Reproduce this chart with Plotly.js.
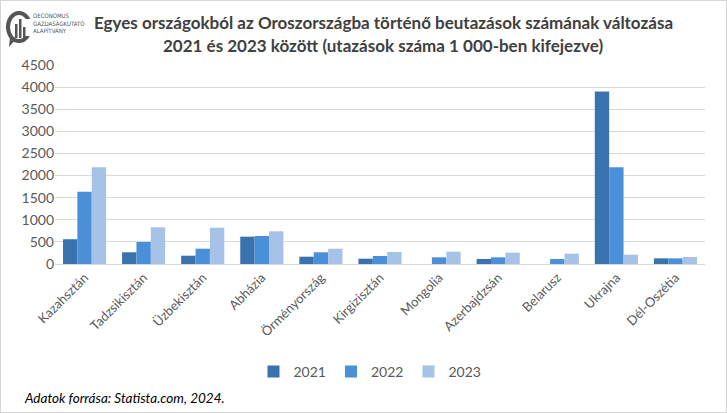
<!DOCTYPE html>
<html>
<head>
<meta charset="utf-8">
<script src="https://cdn.plot.ly/plotly-3.0.1.min.js"></script>
<style>
html,body{margin:0;padding:0;background:#fff;}
#chart{width:725px;height:411px;border:1px solid #d6d6d6;}
</style>
</head>
<body>
<div id="chart"></div>
<script>
const countries = ["Kazahsztán","Tadzsikisztán","Üzbekisztán","Abházia","Örményország","Kirgizisztán","Mongolia","Azerbajdzsán","Belarusz","Ukrajna","Dél-Oszétia"];
const years = ["2021","2022","2023"];
const v2021 = [560, 265, 188, 618, 165, 120, 0, 113, 0, 3900, 128];
const v2022 = [1636, 498, 346, 633, 265, 181, 151, 151, 113, 2190, 128];
const v2023 = [2188, 830, 821, 740, 346, 271, 278, 256, 233, 210, 158];
const colors = ["#3a72ad", "#4a90d9", "#a6c2e6"];
const yTicks = [0,500,1000,1500,2000,2500,3000,3500,4000,4500];

const series = [v2021, v2022, v2023];
const data = series.map((vals, i) => ({
  type: "bar",
  name: years[i],
  x: countries,
  y: vals,
  marker: {color: colors[i], line: {width: 0}},
  hoverinfo: "x+y+name"
}));

// pixel -> paper helpers (plot area x 55..705, y 65..264 in page px)
const px = x => (x - 55) / 650;
const py = y => (264 - y) / 199;
const logoFont = {size: 6, color: "#555555", family: "'Liberation Sans Narrow', 'DejaVu Sans Condensed', sans-serif"};

const layout = {
  width: 725, height: 411,
  margin: {l: 54, r: 21, t: 64, b: 148},
  paper_bgcolor: "#ffffff",
  plot_bgcolor: "#ffffff",
  font: {family: "Lato, 'Open Sans', sans-serif", color: "#595959", size: 13},
  barmode: "group",
  bargap: 0.27,
  bargroupgap: 0,
  showlegend: true,
  legend: {
    orientation: "h", x: px(370), xanchor: "center", y: py(372), yanchor: "middle",
    font: {size: 14, color: "#595959"}, itemwidth: 30, tracegroupgap: 0
  },
  xaxis: {
    tickangle: -45, showgrid: false, zeroline: false,
    showline: true, linecolor: "#d9d9d9", linewidth: 1,
    ticks: "", tickfont: {size: 13, color: "#595959"}
  },
  yaxis: {
    range: [0, 4500], tickvals: yTicks, ticktext: yTicks.map(String),
    showgrid: true, gridcolor: "#d9d9d9", gridwidth: 1, zeroline: false,
    showline: false, ticks: "", tickfont: {size: 14, color: "#595959"}
  },
  annotations: [
    {xref: "paper", yref: "paper", x: px(383), y: py(22), xanchor: "center", yanchor: "middle",
     text: "<b>Egyes országokból az Oroszországba történő beutazások számának változása</b>",
     showarrow: false, font: {size: 17, color: "#404040"}},
    {xref: "paper", yref: "paper", x: px(383), y: py(46), xanchor: "center", yanchor: "middle",
     text: "<b>2021 és 2023 között (utazások száma 1 000-ben kifejezve)</b>",
     showarrow: false, font: {size: 17, color: "#404040"}},
    {xref: "paper", yref: "paper", x: px(22), y: py(398), xanchor: "left", yanchor: "middle",
     text: "<i>Adatok forrása: Statista.com, 2024.</i>",
     showarrow: false, font: {size: 13.5, color: "#000000"}},
    {xref: "paper", yref: "paper", x: px(31), y: py(16), xanchor: "left", yanchor: "middle",
     text: "OECONOMUS", showarrow: false, font: logoFont},
    {xref: "paper", yref: "paper", x: px(31), y: py(23.5), xanchor: "left", yanchor: "middle",
     text: "GAZDASÁGKUTATÓ", showarrow: false, font: logoFont},
    {xref: "paper", yref: "paper", x: px(31), y: py(31), xanchor: "left", yanchor: "middle",
     text: "ALAPÍTVÁNY", showarrow: false, font: logoFont}
  ],
  shapes: [
    {type: "circle", xref: "paper", yref: "paper", x0: px(8), x1: px(30), y0: py(13), y1: py(41),
     line: {color: "#555555", width: 4}, fillcolor: "rgba(0,0,0,0)"},
    {type: "rect", xref: "paper", yref: "paper", x0: px(22), x1: px(33), y0: py(19), y1: py(36),
     line: {width: 0}, fillcolor: "#ffffff"},
    {type: "rect", xref: "paper", yref: "paper", x0: px(15), x1: px(17.5), y0: py(24), y1: py(38),
     line: {width: 0}, fillcolor: "#555555"},
    {type: "rect", xref: "paper", yref: "paper", x0: px(19), x1: px(21.5), y0: py(19), y1: py(38),
     line: {width: 0}, fillcolor: "#555555"},
    {type: "rect", xref: "paper", yref: "paper", x0: px(23), x1: px(25.5), y0: py(27), y1: py(38),
     line: {width: 0}, fillcolor: "#555555"},
    {type: "path", xref: "paper", yref: "paper",
     path: `M ${px(10)} ${py(37)} L ${px(9)} ${py(47)} L ${px(15)} ${py(40)} Z`,
     line: {width: 0}, fillcolor: "#555555"}
  ]
};

Plotly.newPlot("chart", data, layout, {displayModeBar: false, staticPlot: true});
</script>
</body>
</html>
